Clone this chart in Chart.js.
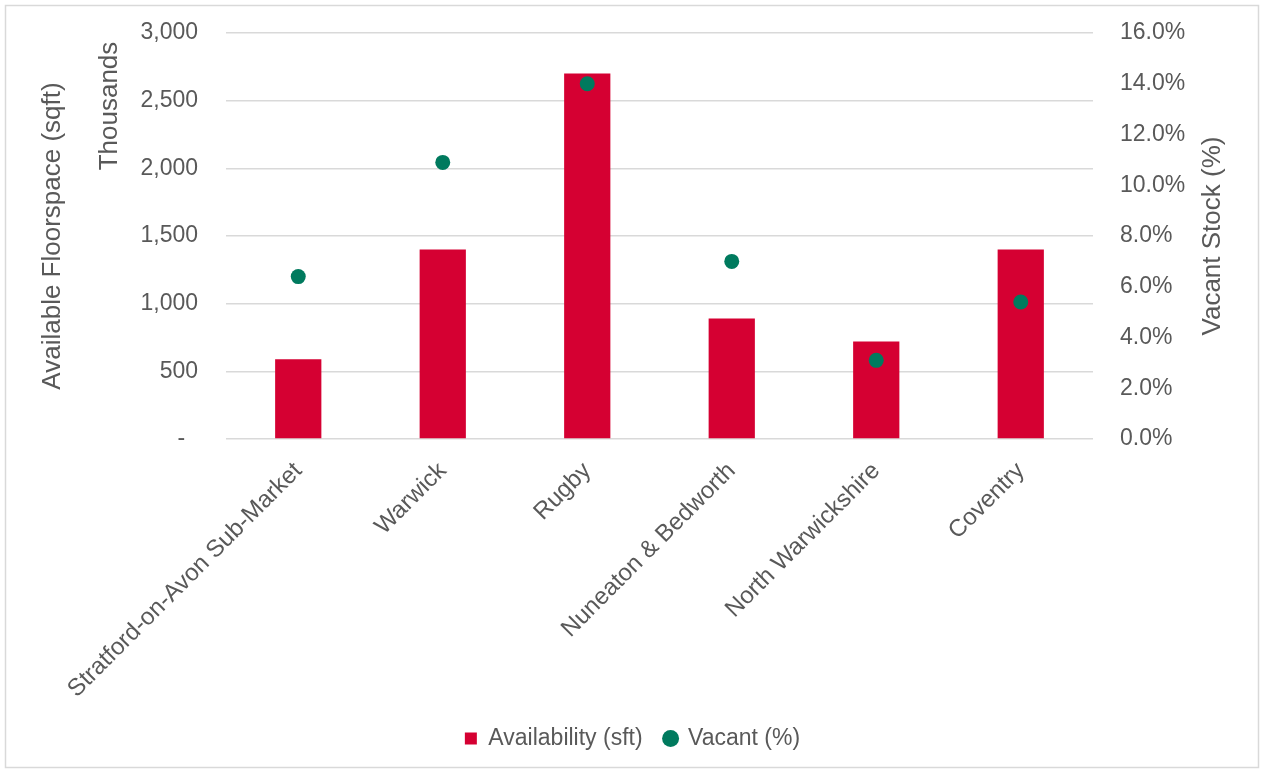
<!DOCTYPE html>
<html>
<head>
<meta charset="utf-8">
<script src="https://cdn.jsdelivr.net/npm/chart.js@4.4.0/dist/chart.umd.min.js"></script>
<style>
  html, body { margin: 0; padding: 0; background: #fff; }
</style>
</head>
<body>
<canvas id="chart" width="1265" height="772"></canvas>
<script>
// data
const categories = ['Stratford-on-Avon Sub-Market', 'Warwick', 'Rugby', 'Nuneaton & Bedworth', 'North Warwickshire', 'Coventry'];
const availability = [590, 1400, 2700, 890, 720, 1400];   // thousands sqft
const vacantPct = [6.4, 10.9, 14.0, 7.0, 3.1, 5.4];        // %
const leftMax = 3000, leftStep = 500;
const rightMax = 16, rightStep = 2;

const FONT = '"Liberation Sans", Arial, sans-serif';
const GREY = '#595959';

// outer frame, "Thousands" display-unit label and the right axis title (reads bottom-up like Excel)
const extras = {
    id: 'extras',
    afterDraw(chart) {
        const ctx = chart.ctx;
        const area = chart.chartArea;
        ctx.save();
        ctx.strokeStyle = '#d9d9d9';
        ctx.lineWidth = 1.5;
        ctx.strokeRect(5.5, 5.5, 1253, 762);
        ctx.font = '26px ' + FONT;
        ctx.fillStyle = GREY;
        ctx.textAlign = 'center';
        ctx.textBaseline = 'middle';

        ctx.save();
        ctx.translate(110, 106);
        ctx.rotate(-Math.PI / 2);
        ctx.fillText('Thousands', 0, 0);
        ctx.restore();

        ctx.save();
        ctx.translate(1213, (area.top + area.bottom) / 2);
        ctx.rotate(-Math.PI / 2);
        ctx.fillText('Vacant Stock (%)', 0, 0);
        ctx.restore();
        ctx.restore();
    }
};

// fixed axis widths, no extra label padding above/below the plot
const fixY = (w) => (scale) => {
    scale.width = w;
    scale.paddingTop = 12;
    scale.paddingBottom = 12;
};

new Chart(document.getElementById('chart'), {
    type: 'bar',
    data: {
        labels: categories,
        datasets: [
            {
                type: 'line',
                label: 'Vacant (%)',
                data: vacantPct,
                yAxisID: 'y1',
                showLine: false,
                pointStyle: 'circle',
                pointRadius: 7.5,
                pointBackgroundColor: '#007A5E',
                pointBorderWidth: 0,
                backgroundColor: '#007A5E',
                borderColor: '#007A5E',
                order: 0
            },
            {
                label: 'Availability (sft)',
                data: availability,
                yAxisID: 'y',
                backgroundColor: '#D50032',
                pointStyle: 'rect',
                barPercentage: 0.32,
                categoryPercentage: 1,
                order: 1
            }
        ]
    },
    options: {
        responsive: false,
        animation: false,
        layout: { padding: { top: 33, bottom: 12, left: 0, right: 0 } },
        plugins: {
            legend: {
                position: 'bottom',
                reverse: true,
                labels: {
                    usePointStyle: true,
                    boxHeight: 12,
                    boxWidth: 12,
                    padding: 22,
                    color: GREY,
                    font: { family: FONT, size: 23 }
                }
            },
            tooltip: { enabled: false }
        },
        scales: {
            x: {
                grid: { display: false },
                border: { display: false },
                ticks: {
                    color: GREY,
                    font: { family: FONT, size: 24 },
                    minRotation: 45,
                    maxRotation: 45,
                    autoSkip: false,
                    padding: 10
                },
                afterFit: (scale) => { scale.height = 266; }
            },
            y: {
                position: 'left',
                min: 0,
                max: leftMax,
                grid: { color: '#d9d9d9', lineWidth: 1.5, drawTicks: false },
                border: { display: false },
                ticks: {
                    stepSize: leftStep,
                    padding: 28,
                    color: GREY,
                    font: { family: FONT, size: 23 },
                    callback: (v) => v === 0 ? '-  ' : v.toLocaleString('en-US')
                },
                title: {
                    display: true,
                    text: 'Available Floorspace (sqft)',
                    color: GREY,
                    font: { family: FONT, size: 26 },
                    padding: { top: 37, bottom: 0 }
                },
                afterFit: fixY(226)
            },
            y1: {
                position: 'right',
                min: 0,
                max: rightMax,
                grid: { drawOnChartArea: false, drawTicks: false },
                border: { display: false },
                ticks: {
                    stepSize: rightStep,
                    padding: 27,
                    color: GREY,
                    font: { family: FONT, size: 23 },
                    callback: (v) => v.toFixed(1) + '%'
                },
                afterFit: fixY(172)
            }
        }
    },
    plugins: [extras]
});
</script>
</body>
</html>
